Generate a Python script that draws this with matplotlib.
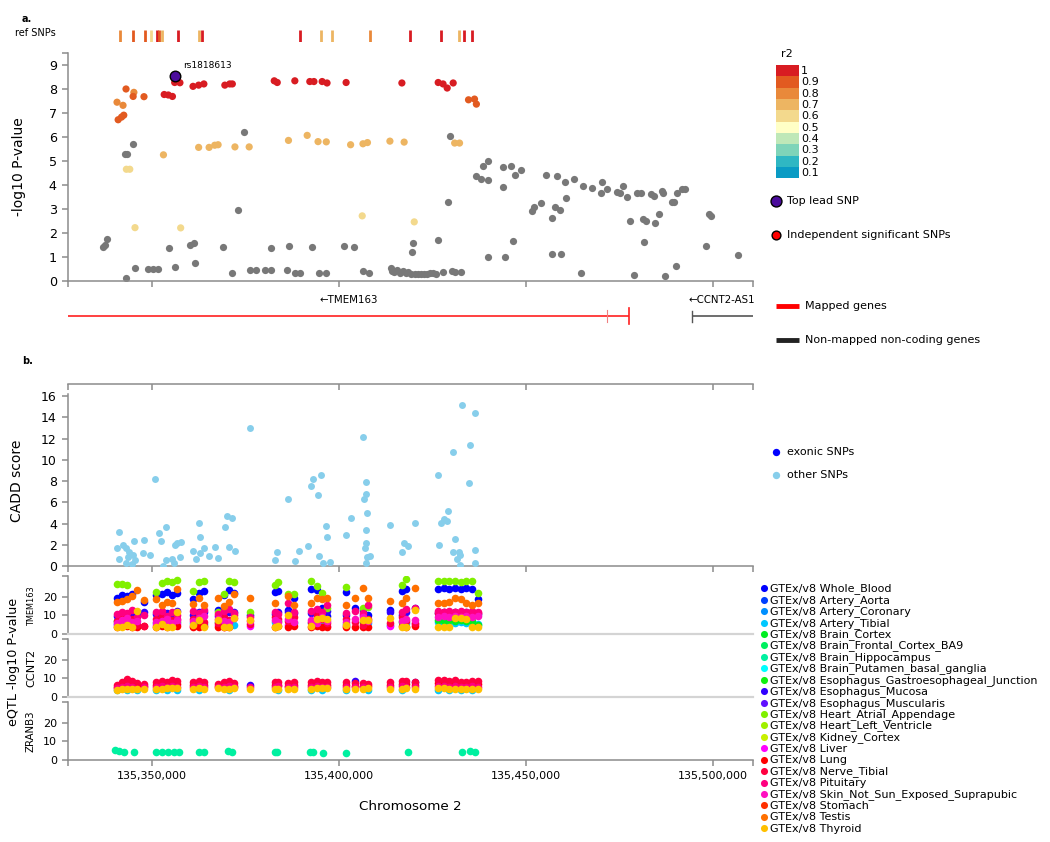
import numpy as np
import matplotlib
matplotlib.use("Agg")
import matplotlib.pyplot as plt

nan = np.nan

# ==========================================
# DATA (positions in kb on chromosome 2)
# ==========================================
X_MIN_KB, X_MAX_KB = 135327.6, 135510.6
MAJOR_TICKS_KB = [135350, 135400, 135450, 135500]

R2_LEVELS = [1.0, 0.9, 0.8, 0.7, 0.6, 0.5, 0.4, 0.3, 0.2, 0.1]
R2_COLORS = ['#d81c22', '#e25a20', '#e9893a', '#edb562', '#f3d98d',
             '#ffffc6', '#bfe8b8', '#7fd4b9', '#2fb7c3', '#0a9bc4']

# ref SNPs track
ref_pos = [135341.6, 135345.0, 135348.1, 135349.9, 135351.4, 135352.0, 135352.6,
           135357.0, 135362.5, 135363.3, 135389.5, 135395.1, 135398.0, 135408.4,
           135418.9, 135427.2, 135432.1, 135433.4, 135435.4]
ref_r2 = [0.8, 0.9, 0.9, 0.6, 1.0, 0.9, 0.7, 1.0, 0.7, 1.0, 1.0, 0.7, 0.7, 0.8,
          1.0, 1.0, 0.7, 1.0, 1.0]

# SNPs in LD with the lead SNP
ld_pos = [135340.7, 135342.3, 135341.0, 135341.9, 135342.5, 135343.1, 135345.0, 135345.2,
          135347.9, 135353.3, 135354.4, 135355.5, 135356.1, 135357.5, 135361.0, 135362.5,
          135363.9, 135369.5, 135370.8, 135371.5, 135382.7, 135383.5, 135388.2, 135392.2,
          135393.3, 135395.5, 135396.8, 135401.9, 135416.8, 135426.5, 135427.8, 135428.9,
          135430.5, 135434.6, 135436.2, 135436.7,
          135353.1, 135362.5, 135365.3, 135366.8, 135367.7, 135372.2, 135376.0, 135386.5,
          135391.5, 135394.4, 135396.6, 135403.1, 135406.4, 135407.6, 135413.6, 135417.4,
          135430.9, 135432.2,
          135343.2, 135344.1, 135345.5, 135357.7, 135406.2, 135420.1]
ld_logp = [7.44, 7.31, 6.71, 6.82, 6.90, 7.99, 7.68, 7.85,
           7.67, 7.76, 7.74, 7.68, 8.26, 8.25, 8.10, 8.15,
           8.20, 8.15, 8.20, 8.20, 8.33, 8.26, 8.33, 8.30,
           8.30, 8.30, 8.24, 8.26, 8.24, 8.26, 8.20, 8.03,
           8.24, 7.54, 7.57, 7.36,
           5.25, 5.56, 5.56, 5.65, 5.67, 5.58, 5.58, 5.85,
           6.06, 5.80, 5.79, 5.67, 5.71, 5.76, 5.82, 5.78,
           5.74, 5.74,
           4.65, 4.65, 2.22, 2.21, 2.71, 2.46]
ld_r2 = [0.8, 0.8, 0.9, 0.9, 0.9, 0.9, 0.9, 0.8,
         0.9, 1.0, 1.0, 1.0, 1.0, 1.0, 1.0, 1.0,
         1.0, 1.0, 1.0, 1.0, 1.0, 1.0, 1.0, 1.0,
         1.0, 1.0, 1.0, 1.0, 1.0, 1.0, 1.0, 1.0,
         1.0, 0.9, 0.9, 0.9,
         0.7, 0.7, 0.7, 0.7, 0.7, 0.7, 0.7, 0.7,
         0.7, 0.7, 0.7, 0.7, 0.7, 0.7, 0.7, 0.7,
         0.7, 0.7,
         0.6, 0.6, 0.6, 0.6, 0.6, 0.6]

# SNPs not in LD (grey)
other_pos = [135337.0, 135337.4, 135338.1, 135343.2, 135342.8, 135343.3, 135345.0, 135345.5,
             135349.0, 135350.4, 135351.7, 135354.5, 135356.1, 135360.3, 135361.2, 135361.5,
             135369.0, 135371.4, 135372.9, 135374.6, 135376.2, 135377.7, 135380.2, 135381.7,
             135381.9, 135386.0, 135386.6, 135388.2, 135389.5, 135392.9, 135394.6, 135396.6,
             135401.3, 135404.1, 135406.4, 135408.0,
             135413.8, 135414.2, 135414.8, 135415.5, 135416.2, 135417.0, 135417.8, 135418.5,
             135419.3, 135420.2, 135421.0, 135421.8, 135422.6, 135423.4, 135424.2, 135425.0,
             135425.8, 135419.5, 135419.8, 135426.5, 135427.8, 135429.2, 135429.6, 135430.2,
             135431.0, 135432.7, 135436.7, 135438.0, 135439.9, 135438.5, 135439.8, 135439.9,
             135443.9, 135446.0, 135443.9, 135447.1, 135448.7, 135446.4, 135444.4, 135451.5,
             135452.0, 135454.0, 135455.4, 135456.9, 135457.8, 135459.1, 135458.2, 135460.4,
             135460.7, 135462.7, 135456.8, 135459.4, 135464.7, 135465.3, 135467.6, 135470.2,
             135470.0, 135471.6, 135474.3, 135476.0, 135475.1, 135476.9, 135479.6, 135480.8,
             135477.8, 135478.7, 135481.4, 135481.2, 135482.1, 135484.5, 135485.4, 135483.4,
             135484.1, 135486.3, 135486.6, 135487.0, 135489.9, 135489.0, 135489.4, 135490.3,
             135491.6, 135492.3, 135498.1, 135498.9, 135499.4, 135506.6]
other_logp = [1.40, 1.50, 1.75, 0.14, 5.29, 5.30, 5.69, 0.53,
              0.50, 0.48, 0.52, 1.36, 0.57, 1.50, 1.57, 0.76,
              1.40, 0.35, 2.96, 6.18, 0.46, 0.46, 0.46, 0.46,
              1.36, 0.46, 1.47, 0.35, 0.35, 1.43, 0.35, 0.35,
              1.46, 1.40, 0.43, 0.35,
              0.55, 0.42, 0.38, 0.45, 0.35, 0.40, 0.32, 0.38,
              0.30, 0.28, 0.30, 0.28, 0.30, 0.28, 0.32, 0.35,
              0.30, 1.19, 1.57, 1.71, 0.38, 3.30, 6.02, 0.40,
              0.38, 0.36, 4.35, 4.25, 4.20, 4.80, 5.00, 1.00,
              4.74, 4.80, 3.90, 4.40, 4.60, 1.68, 1.00, 2.93,
              3.10, 3.24, 4.42, 2.61, 3.10, 2.96, 4.39, 4.14,
              3.46, 4.23, 1.12, 1.12, 0.32, 3.97, 3.86, 4.10,
              3.65, 3.83, 3.72, 3.96, 3.65, 3.51, 3.65, 3.65,
              2.50, 0.25, 1.62, 2.57, 2.51, 2.43, 2.78, 3.62,
              3.54, 3.76, 3.68, 0.20, 0.64, 3.27, 3.27, 3.65,
              3.81, 3.83, 1.46, 2.78, 2.71, 1.07]

lead_name = 'rs1818613'
lead_pos = 135356.2
lead_logp = 8.51

# genes
gene_names = ['TMEM163', 'CCNT2-AS1']
gene_start = [135213.3, 135494.2]
gene_end = [135477.4, 135560.0]
gene_mapped = [True, False]
tmem163_exon_marks = [135471.5]

# CADD scores
cadd_pos = [135341.2, 135340.7, 135341.2, 135342.3, 135343.2, 135343.9, 135343.7, 135343.1,
            135344.6, 135345.0, 135345.1, 135345.6, 135347.7, 135347.9, 135349.5, 135350.9,
            135351.8, 135352.4, 135353.8, 135353.0, 135353.9, 135355.5, 135356.2, 135356.6,
            135357.9, 135356.0, 135357.5, 135361.0, 135361.9, 135362.5, 135362.8, 135362.8,
            135363.9, 135365.3, 135367.0, 135367.7, 135369.6, 135370.0, 135371.4, 135370.6,
            135372.2, 135376.1, 135382.9, 135383.5, 135386.5, 135388.2, 135389.2, 135391.6,
            135392.5, 135393.1, 135394.3, 135395.3, 135394.7, 135395.7, 135396.6, 135396.8,
            135397.6, 135401.8, 135403.1, 135406.4, 135406.6, 135407.2, 135407.3, 135407.6,
            135407.3, 135407.3, 135406.9, 135407.6, 135407.3, 135408.2, 135413.6, 135416.8,
            135417.4, 135418.4, 135420.2, 135426.5, 135426.7, 135427.3, 135428.0, 135428.9,
            135430.5, 135432.9, 135434.9, 135436.2, 135434.7, 135429.1, 135430.9, 135430.5,
            135432.1, 135432.2, 135431.4, 135432.2, 135436.4, 135436.2]
cadd_score = [3.20, 1.66, 0.66, 1.98, 1.66, 1.35, 0.88, 0.31,
              0.19, 1.04, 2.35, 0.56, 1.25, 2.45, 1.04, 8.19,
              3.07, 2.35, 3.70, 0.03, 0.56, 0.63, 1.98, 2.13,
              2.29, 0.25, 0.88, 1.41, 0.63, 4.02, 2.70, 1.19,
              1.66, 0.94, 1.76, 0.72, 3.70, 4.74, 4.55, 1.82,
              1.41, 12.96, 0.56, 1.29, 6.31, 0.50, 1.44, 1.88,
              7.56, 8.19, 6.68, 8.53, 0.94, 0.25, 3.80, 2.70,
              0.41, 2.89, 4.49, 12.17, 6.31, 7.94, 6.81, 4.96,
              3.36, 2.13, 1.73, 0.88, 0.25, 0.97, 3.83, 1.35,
              2.20, 1.91, 4.02, 8.60, 2.00, 4.08, 4.39, 4.24,
              10.76, 15.12, 11.36, 14.37, 7.81, 5.18, 2.51, 1.35,
              1.35, 1.04, 0.66, 0.09, 1.54, 0.31]

# GTEx v8 eQTLs
TISSUES = ['Whole_Blood', 'Artery_Aorta', 'Artery_Coronary', 'Artery_Tibial', 'Brain_Cortex',
           'Brain_Frontal_Cortex_BA9', 'Brain_Hippocampus', 'Brain_Putamen_basal_ganglia',
           'Esophagus_Gastroesophageal_Junction', 'Esophagus_Mucosa', 'Esophagus_Muscularis',
           'Heart_Atrial_Appendage', 'Heart_Left_Ventricle', 'Kidney_Cortex', 'Liver', 'Lung',
           'Nerve_Tibial', 'Pituitary', 'Skin_Not_Sun_Exposed_Suprapubic', 'Stomach', 'Testis',
           'Thyroid']
TISSUE_COLORS = ['#0000ff', '#0040ff', '#0090ff', '#00c8ff', '#00ee20', '#00f060', '#00f0a0',
                 '#00ffff', '#10f010', '#3000ff', '#6010ff', '#80f000', '#a0f000', '#c8f000',
                 '#ff00ff', '#ff0000', '#ff0040', '#ff0080', '#ff10c0', '#ff3000', '#ff7000',
                 '#ffc000']

eqtl_pos = [135340.6, 135342.0, 135343.4, 135344.8, 135346.0,
            135347.9,
            135351.2, 135352.6, 135354.0, 135355.4, 135356.8,
            135361.0, 135362.6, 135363.9,
            135367.7, 135369.2, 135370.6, 135372.0,
            135376.1,
            135382.9, 135383.6,
            135386.4, 135388.0,
            135392.6, 135394.0, 135395.4, 135396.8,
            135402.0, 135404.2,
            135406.4, 135407.8,
            135413.7,
            135416.7, 135418.0, 135420.2,
            135426.5, 135428.0, 135429.5, 135431.0, 135432.5, 135434.0, 135435.5, 135437.0]

TMEM163_Whole_Blood = [19.5, 21.0, 20.5, 21.5, 12.0, 17.0, 21.0, 21.5, 22.5, 21.0, 22.0,
                       18.5, 22.0, 23.0, 13.0, 21.0, 23.5, 22.0, 10.0, 22.5, 23.0, 13.0, 19.5,
                       24.0, 23.5, 14.0, 9.5, 22.5, 14.0, 13.0, 10.0, 13.0, 23.0, 24.0, 14.0,
                       24.0, 24.5, 24.0, 24.5, 24.0, 24.5, 24.0, 18.5]
TMEM163_Artery_Tibial = [5.5, nan, 6.0, nan, 5.0, nan, 6.0, nan, 5.5, 6.5, nan,
                         6.0, nan, 5.5, nan, 6.0, nan, 5.0, nan, 6.5, nan, nan, 6.0,
                         6.0, nan, 6.5, nan, 5.5, nan, nan, 6.0, 5.0, nan, 6.0, nan,
                         6.5, 6.0, 6.5, 6.0, 6.5, 6.0, 6.5, 5.5]
TMEM163_Brain_Cortex = [7.0, nan, nan, 6.5, nan, nan, nan, 7.0, nan, nan, 6.5,
                        nan, 7.0, nan, 6.5, nan, nan, nan, nan, nan, 7.0, nan, nan,
                        nan, 6.5, nan, nan, nan, nan, 6.5, nan, nan, 6.5, nan, nan,
                        7.5, 7.0, 7.5, 7.0, 7.5, 7.0, 7.0, 5.0]
TMEM163_Esophagus_Mucosa = [9.5, 11.0, 10.0, 12.0, 9.5, 11.5, 10.5, 9.5, 11.0, 10.0, 12.5,
                            10.0, 12.0, 11.5, 9.5, 10.5, 12.0, 11.5, nan, 10.5, 11.5, 12.0, 11.0,
                            11.0, 12.0, 10.0, 12.5, 10.0, nan, 10.0, nan, 11.5, 10.0, 11.5, nan,
                            11.0, 11.5, 11.0, 11.5, 11.0, 11.5, 11.0, 10.5]
TMEM163_Heart_Atrial_Appendage = [26.5, 26.8, 26.0, nan, nan, nan, 22.5, 27.5, 28.5, 27.8, 29.0,
                                  23.0, 28.0, 28.2, 12.0, 21.5, 28.5, 28.0, 12.0, 26.0, 28.0,
                                  21.5, 21.5, 28.5, 25.5, 22.0, 14.0, 25.0, nan, 14.0, 14.5, nan,
                                  26.0, 29.5, nan, 28.5, 28.5, 28.5, 28.5, 28.0, 28.5, 28.5, 22.0]
TMEM163_Liver = [5.0, 4.5, nan, 5.5, nan, nan, 5.0, nan, 4.5, nan, 5.5,
                 4.5, nan, nan, 5.0, 4.0, nan, nan, 4.5, nan, nan, 5.0, nan,
                 nan, 5.0, nan, 4.5, 4.5, nan, nan, nan, 4.5, nan, nan, 5.5,
                 nan, nan, nan, nan, nan, nan, nan, nan]
TMEM163_Lung = [4.0, 5.0, 4.5, 3.5, 4.0, 4.5, 3.5, 4.5, 4.0, 5.0, 4.5,
                3.5, 4.0, 4.5, 4.0, 3.5, 4.0, nan, nan, 4.0, 4.5, 4.0, 4.5,
                4.0, 4.5, 3.5, 4.0, 4.0, 3.5, 3.5, 4.0, nan, 4.5, 4.0, 4.5,
                nan, nan, nan, nan, nan, nan, nan, nan]
TMEM163_Nerve_Tibial = [7.0, 9.0, 6.0, 8.0, 5.0, 4.5, 8.0, 10.0, 9.0, 7.5, 8.0,
                        8.0, 10.0, 6.5, 6.0, 9.0, 7.5, 10.0, 5.5, 9.0, 8.0, 7.0, 9.0,
                        6.5, 10.0, 8.0, 6.0, 8.0, 6.5, 5.0, 8.0, 6.0, 9.0, 7.0, 6.0,
                        11.0, 11.5, 11.0, 11.5, 11.0, 11.0, 11.5, 11.0]
TMEM163_Pituitary = [10.5, 12.0, 11.0, 13.0, 9.0, 10.0, 11.5, 12.5, 9.5, 12.0, 10.0,
                     12.5, 11.0, 13.0, 10.5, 12.5, 13.5, 11.0, 9.0, 12.0, 10.5, 16.5, 12.0,
                     12.5, 13.5, 11.5, 15.5, 11.0, 12.5, 11.0, 15.5, nan, 11.5, 13.5, 14.0,
                     12.5, 12.0, 12.5, 12.0, 12.5, 12.0, 12.5, 12.0]
TMEM163_Skin = [6.0, 7.5, 8.5, 6.5, 7.0, nan, 6.5, 7.0, 8.0, 6.0, 7.5,
                7.0, 8.5, 9.5, 8.0, 7.0, 6.5, 8.5, 7.0, 7.5, 6.5, 8.0, 6.5,
                7.5, 6.0, 9.0, 7.0, 6.5, 8.0, 9.0, 7.0, nan, 7.0, 8.0, 7.5,
                9.0, 9.5, 9.0, 9.5, 9.0, 9.5, 9.0, 9.5]
TMEM163_Testis = [17.0, 17.5, 18.5, 20.5, 23.5, 18.0, 18.5, 15.5, 17.0, 16.5, 24.0,
                  16.0, 19.5, 15.5, 19.0, 15.0, 17.0, 21.5, 19.5, 16.5, nan, 20.5, 15.5,
                  16.5, 19.0, 18.5, 19.5, 15.5, 19.5, 24.5, 19.0, 17.5, 16.5, 19.5, 24.5,
                  16.5, 16.5, 17.0, 19.0, 18.5, 16.5, 15.5, 16.5]
TMEM163_Thyroid = [4.0, 3.5, 5.0, 4.0, 12.5, nan, 4.0, 5.5, 4.0, 3.5, 11.5,
                   5.0, 7.5, 4.0, 7.5, 3.5, 4.0, 8.5, 7.5, 4.0, 4.5, 10.0, nan,
                   4.5, 8.0, 8.5, 8.0, 5.0, nan, 7.5, 7.5, 8.5, 4.0, 4.0, 13.0,
                   3.5, 3.5, 3.5, 8.5, 8.5, 8.0, 3.5, 3.5]

CCNT2_Artery_Tibial = [3.5, nan, 3.5, nan, 3.5, nan, 3.5, nan, 3.5, nan, 3.5,
                       nan, 3.5, nan, nan, nan, 3.5, nan, nan, nan, 3.5, nan, nan,
                       3.5, nan, 3.5, nan, 3.5, nan, nan, 3.5, nan, 3.5, nan, nan,
                       3.5, nan, 3.5, nan, 3.5, nan, 3.5, nan]
CCNT2_Esophagus_Mucosa = [nan, nan, nan, nan, nan, nan, nan, 7.0, nan, nan, nan,
                          nan, nan, nan, nan, 6.5, nan, nan, 6.5, nan, nan, nan, nan,
                          nan, nan, nan, nan, nan, 8.5, nan, nan, nan, nan, nan, 8.0,
                          nan, nan, nan, nan, nan, nan, nan, nan]
CCNT2_Lung = [5.5, 6.5, 7.0, 6.5, 6.0, 6.0, 6.5, 7.0, 6.5, 7.5, 7.0,
              6.5, 7.0, 6.5, 6.0, 6.5, 7.0, 6.0, nan, 6.5, 6.5, 6.0, 6.5,
              6.5, 7.0, 6.5, 6.5, 6.5, 6.0, 6.0, 6.0, 6.5, 7.0, 7.0, 6.5,
              7.5, 7.5, 7.0, 7.5, 6.5, 6.5, 7.0, 7.0]
CCNT2_Nerve_Tibial = [6.5, 8.0, 9.5, 8.5, 7.5, 7.0, 8.0, 8.5, 8.0, 9.0, 8.5,
                      8.0, 8.5, 8.0, 7.0, 8.0, 8.5, 7.5, nan, 8.0, 8.0, 7.5, 8.0,
                      8.0, 8.5, 8.0, 8.0, 8.0, 7.5, 7.5, 7.0, 8.0, 8.5, 8.5, 8.0,
                      9.0, 9.0, 8.5, 9.0, 8.0, 8.0, 8.5, 8.5]
CCNT2_Pituitary = [5.0, 5.5, 6.0, 5.5, nan, 5.5, 5.5, 6.0, 5.5, 6.0, 5.5,
                   5.5, 6.0, 5.5, 5.5, 5.5, 6.0, 5.5, 5.5, 5.5, 6.0, 5.5, 5.5,
                   5.5, 6.0, 5.5, 5.5, 5.5, 5.5, 5.5, nan, 5.5, 6.0, 5.5, 5.5,
                   6.0, 6.0, 5.5, 6.0, 5.5, 5.5, 6.0, 5.5]
CCNT2_Thyroid = [3.5, 4.5, 4.5, 4.5, 4.5, 4.5, 4.5, 4.5, 5.0, 5.0, 5.0,
                 4.5, 5.0, 4.5, 5.0, 4.5, 4.5, 5.0, 4.5, 4.5, 4.5, 4.5, 4.5,
                 4.5, 5.0, 5.0, 5.0, 4.5, 4.5, 4.5, 5.0, 4.5, 4.5, 5.0, 4.5,
                 5.0, 5.0, 4.5, 4.5, 4.5, 4.5, 4.5, 4.5]

zranb3_pos = [135340.1, 135341.2, 135342.5, 135345.2, 135351.2, 135352.8, 135354.4, 135356.0,
              135357.2, 135362.6, 135363.9, 135370.4, 135371.4, 135382.9, 135383.5, 135392.2,
              135393.1, 135395.7, 135402.0, 135418.4, 135432.9, 135434.9, 135436.2]
ZRANB3_Brain_Hippocampus = [5.2, 4.9, 4.5, 4.2, 4.5, 4.5, 4.3, 4.3, 4.3, 4.3, 4.3, 4.9,
                            4.3, 4.3, 4.3, 4.3, 4.3, 4.0, 4.0, 4.2, 4.3, 5.0, 4.4]

# ==========================================
# STYLE
# ==========================================
W, H = 1050, 842
AXIS_GRAY = '#8c8c8c'
GRAY_DOT = '#787878'
LEAD_COLOR = '#4b0c9c'
CADD_OTHER = '#87ceeb'

fig = plt.figure(figsize=(W / 100, H / 100), dpi=100)


def px_axes(l, t, r, b, **kw):
    return fig.add_axes([l / W, 1 - b / H, (r - l) / W, (b - t) / H], **kw)


def ptext(x, y, s, **kw):
    return fig.text(x / W, 1 - y / H, s, **kw)


def r2_color(v):
    return R2_COLORS[int(np.argmin(np.abs(np.array(R2_LEVELS) - v)))]


XMIN, XMAX = X_MIN_KB * 1000, X_MAX_KB * 1000
XTICKS = [XMIN] + [t * 1000 for t in MAJOR_TICKS_KB] + [XMAX]


def style_axis(ax, ticklabels=False, ylab_size=9):
    ax.set_xlim(XMIN, XMAX)
    for s in ax.spines.values():
        s.set_color(AXIS_GRAY)
        s.set_linewidth(1.1)
    ax.spines['top'].set_visible(False)
    ax.spines['right'].set_visible(False)
    ax.set_xticks(XTICKS)
    if ticklabels:
        ax.set_xticklabels([''] + [f'{t * 1000:,}' for t in MAJOR_TICKS_KB] + [''], fontsize=9.5)
    else:
        ax.set_xticklabels([])
    ax.tick_params(colors=AXIS_GRAY, labelcolor='black', width=1.1, length=4.5,
                   labelsize=ylab_size)
    ax.patch.set_alpha(0)


# ---- ref SNPs track ----
ax_ref = px_axes(68, 30, 753, 42)
ax_ref.set_xlim(XMIN, XMAX)
ax_ref.set_ylim(0, 1)
ax_ref.vlines(np.array(ref_pos) * 1000, 0, 1, colors=[r2_color(v) for v in ref_r2], lw=2.0)
ax_ref.axis('off')

# ---- regional plot ----
ax_top = px_axes(68, 52.7, 753, 281)
style_axis(ax_top, ylab_size=9.2)
ax_top.set_ylim(0, 9.5)
ax_top.set_yticks(list(range(10)) + [9.5])
ax_top.set_yticklabels([str(i) for i in range(10)] + [''])
ax_top.scatter(np.array(other_pos) * 1000, other_logp, s=27, color=GRAY_DOT, lw=0, zorder=2)
order = np.argsort(ld_r2, kind='stable')
ax_top.scatter(np.array(ld_pos)[order] * 1000, np.array(ld_logp)[order], s=27,
               color=[r2_color(ld_r2[i]) for i in order], lw=0, zorder=3)
ax_top.scatter([lead_pos * 1000], [lead_logp], s=58, color=LEAD_COLOR, edgecolors='black',
               lw=1.0, zorder=4)
ax_top.annotate(lead_name, (lead_pos * 1000, lead_logp), xytext=(6, 8),
                textcoords='offset points', fontsize=6.5, ha='left', va='center')

# ---- gene track ----
ax_gene = px_axes(68, 290, 753, 335)
ax_gene.set_xlim(XMIN, XMAX)
ax_gene.set_ylim(0, 1)
ax_gene.axis('off')
for name, st, en, mapped in zip(gene_names, gene_start, gene_end, gene_mapped):
    col = '#ff2020' if mapped else '#555555'
    ax_gene.plot([st * 1000, en * 1000], [0.42, 0.42], color=col, lw=1.2, solid_capstyle='butt')
    if en < X_MAX_KB:
        ax_gene.plot([en * 1000] * 2, [0.24, 0.6], color=col, lw=1.2)
    if st > X_MIN_KB:
        ax_gene.plot([st * 1000] * 2, [0.3, 0.54], color=col, lw=1.0)
    vis_mid = (max(st, X_MIN_KB) + min(en, X_MAX_KB)) / 2 * 1000
    ax_gene.text(vis_mid, 0.78, '\u2190' + name, fontsize=7.4, ha='center', va='center')
for ex in tmem163_exon_marks:
    ax_gene.plot([ex * 1000] * 2, [0.28, 0.56], color='#f08080', lw=0.8)

# ---- CADD ----
ax_cadd = px_axes(68, 384, 753, 566)
style_axis(ax_cadd, ylab_size=9)
ax_cadd.set_ylim(0, 17.13)
ax_cadd.set_yticks(range(0, 17, 2))
ax_cadd.spines['left'].set_bounds(0, 16.2)
ax_cadd.scatter(np.array(cadd_pos) * 1000, cadd_score, s=25, color=CADD_OTHER, lw=0, zorder=3)
sec = ax_cadd.secondary_xaxis('top')
sec.set_xticks(XTICKS)
sec.set_xticklabels([])
sec.tick_params(direction='in', colors=AXIS_GRAY, width=1.1, length=4.5)
for s in sec.spines.values():
    s.set_color(AXIS_GRAY)
    s.set_linewidth(1.1)

# ---- eQTL panels ----
tmem163_table = {
    'Whole_Blood': TMEM163_Whole_Blood, 'Artery_Tibial': TMEM163_Artery_Tibial,
    'Brain_Cortex': TMEM163_Brain_Cortex, 'Esophagus_Mucosa': TMEM163_Esophagus_Mucosa,
    'Heart_Atrial_Appendage': TMEM163_Heart_Atrial_Appendage, 'Liver': TMEM163_Liver,
    'Lung': TMEM163_Lung, 'Nerve_Tibial': TMEM163_Nerve_Tibial,
    'Pituitary': TMEM163_Pituitary, 'Skin_Not_Sun_Exposed_Suprapubic': TMEM163_Skin,
    'Testis': TMEM163_Testis, 'Thyroid': TMEM163_Thyroid,
}
ccnt2_table = {
    'Artery_Tibial': CCNT2_Artery_Tibial, 'Esophagus_Mucosa': CCNT2_Esophagus_Mucosa,
    'Lung': CCNT2_Lung, 'Nerve_Tibial': CCNT2_Nerve_Tibial,
    'Pituitary': CCNT2_Pituitary, 'Thyroid': CCNT2_Thyroid,
}
zranb3_table = {'Brain_Hippocampus': ZRANB3_Brain_Hippocampus}

panels = [
    ('TMEM163', eqtl_pos, tmem163_table, 576, 634, 5.9),
    ('CCNT2', eqtl_pos, ccnt2_table, 639, 697, 8.1),
    ('ZRANB3', zranb3_pos, zranb3_table, 702, 760, 7.3),
]
for i, (gene, pos, table, top, bot, fs) in enumerate(panels):
    ax = px_axes(68, top, 753, bot)
    last = i == len(panels) - 1
    style_axis(ax, ticklabels=last, ylab_size=8)
    ax.set_ylim(0, 31)
    ax.set_yticks([0, 10, 20, 31])
    ax.set_yticklabels(['0', '10', '20', ''])
    if not last:
        ax.spines['bottom'].set_color('#d4d4d4')
        ax.spines['bottom'].set_linewidth(1.6)
        ax.tick_params(axis='x', length=0)
    for name, color in zip(TISSUES, TISSUE_COLORS):
        if name not in table:
            continue
        vals = np.asarray(table[name], float)
        ok = ~np.isnan(vals)
        ax.scatter(np.asarray(pos)[ok] * 1000, vals[ok], s=30, color=color, lw=0, zorder=3)
    ptext(31, (top + bot) / 2, gene, rotation=90, fontsize=fs, ha='center', va='center')

# ---- texts ----
ptext(22, 19, 'a.', fontsize=7, fontweight='bold', ha='left', va='center')
ptext(22, 361, 'b.', fontsize=7, fontweight='bold', ha='left', va='center')
ptext(15, 33, 'ref SNPs', fontsize=7, ha='left', va='center')
ptext(19, 167, '-log10 P-value', rotation=90, fontsize=10, ha='center', va='center')
ptext(17.5, 481, 'CADD score', rotation=90, fontsize=10, ha='center', va='center')
ptext(14, 662, 'eQTL -log10 P-value', rotation=90, fontsize=9.2, ha='center', va='center')
ptext(410, 807, 'Chromosome 2', fontsize=9.7, ha='center', va='center')

# ---- legends (drawn in pixel space) ----
ov = fig.add_axes([0, 0, 1, 1])
ov.set_xlim(0, W)
ov.set_ylim(H, 0)
ov.axis('off')

ptext(787, 54, 'r2', fontsize=8, ha='center', va='center')
cell_h = (178.3 - 65) / len(R2_LEVELS)
for k, (lev, col) in enumerate(zip(R2_LEVELS, R2_COLORS)):
    y0 = 65 + k * cell_h
    ov.add_patch(plt.Rectangle((776, y0), 22.7, cell_h, facecolor=col, edgecolor='none'))
    ptext(801, y0 + cell_h / 2 + 0.5, f'{lev:g}', fontsize=8, ha='left', va='center')

ov.scatter([776], [201], s=62, color=LEAD_COLOR, edgecolors='black', lw=1.0)
ptext(787, 201, 'Top lead SNP', fontsize=8, ha='left', va='center')
ov.scatter([776], [235], s=40, color='#ff0000', edgecolors='black', lw=1.0)
ptext(787, 235, 'Independent significant SNPs', fontsize=8, ha='left', va='center')
ov.plot([776, 798.7], [306, 306], color='#ff0000', lw=3.5, solid_capstyle='butt')
ptext(805, 306, 'Mapped genes', fontsize=8, ha='left', va='center')
ov.plot([776, 798.7], [340, 340], color='#222222', lw=3.5, solid_capstyle='butt')
ptext(805, 340, 'Non-mapped non-coding genes', fontsize=8, ha='left', va='center')

ov.scatter([775.7], [452], s=28, color='#0000ff', lw=0)
ptext(787, 452, 'exonic SNPs', fontsize=8, ha='left', va='center')
ov.scatter([775.7], [475], s=28, color=CADD_OTHER, lw=0)
ptext(787, 475, 'other SNPs', fontsize=8, ha='left', va='center')

row_h = (828.3 - 588.3) / (len(TISSUES) - 1)
for k, (name, col) in enumerate(zip(TISSUES, TISSUE_COLORS)):
    yy = 588.3 + k * row_h
    ov.scatter([764.3], [yy], s=26, color=col, lw=0)
    ptext(770.5, yy + 0.5, 'GTEx/v8 ' + name, fontsize=8, ha='left', va='center')

fig.savefig('out.png', dpi=100)
